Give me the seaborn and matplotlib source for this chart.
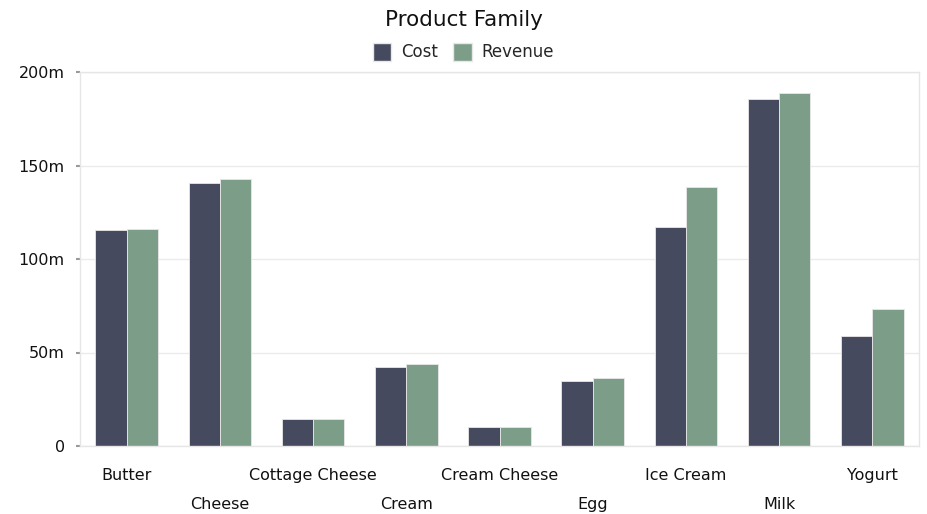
import matplotlib
matplotlib.use("Agg")
import matplotlib.pyplot as plt
import seaborn as sns
import pandas as pd
from matplotlib.patches import Patch
from matplotlib.ticker import FuncFormatter

categories = ["Butter", "Cheese", "Cottage Cheese", "Cream", "Cream Cheese",
              "Egg", "Ice Cream", "Milk", "Yogurt"]
cost = [115.5, 140.6, 14.2, 42.5, 9.9, 34.8, 116.9, 185.7, 58.8]
revenue = [116.3, 143.0, 14.7, 44.1, 10.4, 36.4, 138.3, 188.6, 73.3]
series = ["Cost", "Revenue"]
colors = {"Cost": "#454a5e", "Revenue": "#7c9e89"}
y_ticks = [0, 50, 100, 150, 200]

df = pd.DataFrame({
    "Product Family": categories * 2,
    "Value": cost + revenue,
    "Series": ["Cost"] * len(categories) + ["Revenue"] * len(categories),
})

sns.set_theme(style="white")
plt.rcParams["font.family"] = ["DejaVu Sans"]

fig = plt.figure(figsize=(9.27, 5.14), dpi=100)
ax = fig.add_axes([80 / 927, 1 - 446 / 514, (919 - 80) / 927, (446 - 72) / 514])

sns.barplot(data=df, x="Product Family", y="Value", hue="Series",
            hue_order=series, palette=colors, width=0.67, ax=ax,
            edgecolor="#e8e8e8", linewidth=0.6, legend=False, saturation=1)

ax.set_ylim(0, 200)
ax.set_xlim(-0.5, len(categories) - 0.5)
ax.set_yticks(y_ticks)
ax.yaxis.set_major_formatter(FuncFormatter(lambda v, p: "0" if v == 0 else f"{v:g}m"))
ax.grid(axis="y", color="#ebebeb", linewidth=1)
ax.set_axisbelow(True)
for s in ax.spines.values():
    s.set_color("#e6e6e6")
    s.set_linewidth(1)
ax.set_xlabel("")
ax.set_ylabel("")

ax.tick_params(axis="y", length=3, width=1.5, color="#999999", pad=8,
               labelsize=11.5, labelcolor="#111111", left=True)
ax.tick_params(axis="x", length=0, labelsize=11.5, labelcolor="#111111")
for i, t in enumerate(ax.xaxis.get_major_ticks()):
    t.set_pad(16 if i % 2 == 0 else 37)

fig.text(0.5, 1 - 20 / 514, "Product Family", ha="center", va="center",
         fontsize=15.5, color="#111111")
handles = [Patch(facecolor=colors[s], edgecolor="#e8e8e8", label=s) for s in series]
fig.legend(handles=handles, loc="center", bbox_to_anchor=(0.5, 1 - 52 / 514),
           ncol=2, frameon=False, fontsize=12, handlelength=1.1, handleheight=1.3,
           handletextpad=0.6, columnspacing=0.9)

fig.savefig("out.png", dpi=100)
